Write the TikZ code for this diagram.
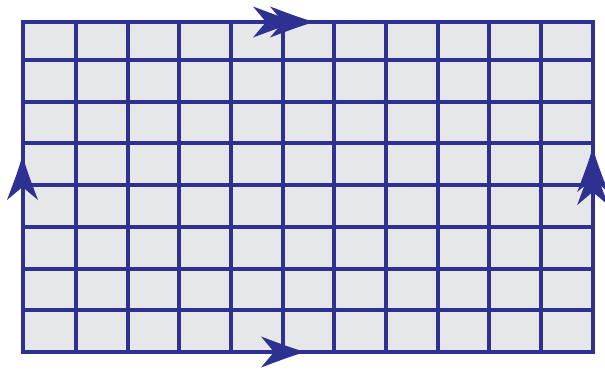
\documentclass[tikz,border=0pt]{standalone}
\definecolor{navy}{RGB}{46,49,146}
\definecolor{cellgray}{RGB}{230,231,232}
\tikzset{
  gridline/.style={draw=navy, line width=4pt},
  arrowhead/.pic={\fill[navy] (0,0) .. controls (-14,3.5) and (-30,10) .. (-45,15.5) -- (-32,0) -- (-45,-15.5) .. controls (-30,-10) and (-14,-3.5) .. cycle;}
}
\begin{document}
\begin{tikzpicture}[x=1pt,y=-1pt]
\useasboundingbox (0,0) rectangle (605,370);
\coordinate (nw) at (22.5,22);
\coordinate (se) at (592.7,352);
\fill[cellgray] (nw) rectangle (se);
\foreach \i in {0,...,9} {
  \draw[gridline] ({76+\i*51.67},22) -- ({76+\i*51.67},352);
}
\foreach \j in {0,...,6} {
  \draw[gridline] (22.5,{60+\j*41.7}) -- (592.7,{60+\j*41.7});
}
\draw[gridline] (nw) rectangle (se);
% top double arrow
\pic at (298,22) {arrowhead};
\pic at (315,22) {arrowhead};
% bottom single arrow
\pic at (306,352) {arrowhead};
% left single arrow (up)
\pic[rotate=90] at (22.5,155) {arrowhead};
% right double arrow (up)
\pic[rotate=90] at (592.7,147) {arrowhead};
\pic[rotate=90] at (592.7,160) {arrowhead};
\end{tikzpicture}
\end{document}
